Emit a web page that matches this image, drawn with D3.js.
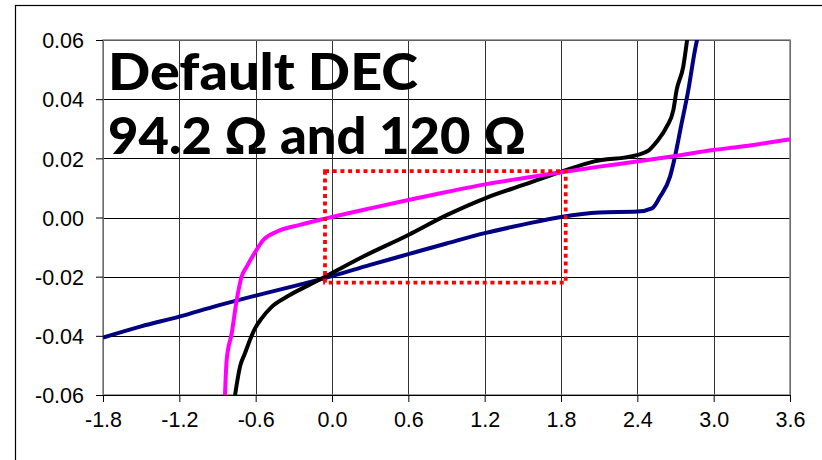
<!DOCTYPE html>
<html><head><meta charset="utf-8">
<script src="https://cdn.jsdelivr.net/npm/d3@7/dist/d3.min.js"></script>
<style>
html,body{margin:0;padding:0;background:#fff;}
svg{display:block;}
</style></head>
<body>
<svg id="chart" width="822" height="460"></svg>
<script>
// ---- data ----
const xTicks = [-1.8, -1.2, -0.6, 0.0, 0.6, 1.2, 1.8, 2.4, 3.0, 3.6];
const xTickLabels = ["-1.8","-1.2","-0.6","0.0","0.6","1.2","1.8","2.4","3.0","3.6"];
const yTicks = [-0.06, -0.04, -0.02, 0.00, 0.02, 0.04, 0.06];
const yTickLabels = ["-0.06","-0.04","-0.02","0.00","0.02","0.04","0.06"];

const titleLines = ["Default DEC", "94.2 \u03A9 and 120 \u03A9"];

// navy (dark blue) curve
const navyX = [-1.8, -1.5, -1.2, -0.9, -0.6, -0.3, 0.0, 0.3, 0.6, 0.9, 1.2, 1.5, 1.8, 2.1, 2.4, 2.515, 2.578, 2.657, 2.696, 2.748, 2.801, 2.853, 2.872];
const navyY = [-0.0406, -0.0368, -0.0335, -0.0298, -0.0264, -0.0232, -0.0198, -0.0160, -0.0124, -0.0088, -0.0053, -0.0024, 0.0002, 0.0017, 0.0020, 0.0031, 0.0070, 0.0138, 0.0206, 0.0318, 0.0431, 0.0566, 0.0606];

// black curve
const blackX = [-0.762, -0.723, -0.684, -0.645, -0.605, -0.553, -0.474, -0.356, -0.199, -0.055, 0.246, 0.6, 0.901, 1.203, 1.504, 1.805, 2.054, 2.395, 2.487, 2.552, 2.631, 2.683, 2.709, 2.761, 2.793];
const blackY = [-0.0600, -0.0504, -0.0459, -0.0414, -0.0375, -0.0341, -0.0302, -0.0268, -0.0232, -0.0200, -0.0132, -0.0059, 0.0008, 0.0065, 0.0110, 0.0155, 0.0189, 0.0211, 0.0226, 0.0256, 0.0307, 0.0363, 0.0431, 0.0510, 0.0606];

// magenta curve
const magentaX = [-0.841, -0.828, -0.788, -0.749, -0.710, -0.670, -0.618, -0.540, -0.435, -0.252, -0.047, 0.3, 0.6, 0.9, 1.203, 1.5, 1.805, 2.1, 2.395, 2.7, 2.997, 3.207, 3.4, 3.6];
const magentaY = [-0.0600, -0.0482, -0.0391, -0.0279, -0.0200, -0.0166, -0.0127, -0.0076, -0.0048, -0.0025, -0.0003, 0.0031, 0.0059, 0.0086, 0.0112, 0.0133, 0.0153, 0.0172, 0.0189, 0.0208, 0.0228, 0.0239, 0.0251, 0.0264];

// dotted highlight box (data coordinates)
const boxX = [-0.055, 1.837];
const boxY = [-0.022, 0.0157];

// ---- drawing ----
const svg = d3.select("#chart");
const x = d3.scaleLinear().domain([-1.8, 3.6]).range([103, 790]);
const y = d3.scaleLinear().domain([-0.06, 0.06]).range([395, 40]);

// outer chart border
svg.append("rect").attr("x", 15.5).attr("y", 5.5).attr("width", 830).attr("height", 470)
  .attr("fill", "#fff").attr("stroke", "#000").attr("stroke-width", 1.2);

// gridlines
const grid = svg.append("g");
grid.selectAll("line.h").data(yTicks).join("line")
  .attr("x1", x(-1.8)).attr("x2", x(3.6))
  .attr("y1", d => Math.round(y(d)) + 0.5).attr("y2", d => Math.round(y(d)) + 0.5)
  .attr("stroke", "#000").attr("stroke-width", 1);
grid.selectAll("line.v").data(xTicks).join("line")
  .attr("y1", y(0.06)).attr("y2", y(-0.06))
  .attr("x1", d => Math.round(x(d)) + 0.5).attr("x2", d => Math.round(x(d)) + 0.5)
  .attr("stroke", "#333").attr("stroke-width", 1);

// plot area frame (gray)
svg.append("rect").attr("x", x(-1.8)).attr("y", y(0.06))
  .attr("width", x(3.6) - x(-1.8)).attr("height", y(-0.06) - y(0.06))
  .attr("fill", "none").attr("stroke", "#808080").attr("stroke-width", 1.5);

// axes
const fontAx = "'Liberation Sans', Arial, sans-serif";
const yAxis = d3.axisLeft(y).tickValues(yTicks).tickSize(7).tickPadding(12)
  .tickFormat((d, i) => yTickLabels[i]);
const gy = svg.append("g").attr("transform", `translate(${x(-1.8)},0)`).call(yAxis);
const xAxis = d3.axisBottom(x).tickValues(xTicks).tickSize(7).tickPadding(10)
  .tickFormat((d, i) => xTickLabels[i]);
const gx = svg.append("g").attr("transform", `translate(0,${y(-0.06)})`).call(xAxis);
[gx, gy].forEach(g => {
  g.select(".domain").remove();
  g.selectAll(".tick line").attr("stroke", "#000").attr("stroke-width", 1);
  g.selectAll(".tick text").attr("font-family", fontAx).attr("font-size", 21.5).attr("fill", "#000");
});
gy.selectAll(".tick text").attr("dy", "0.36em");
gx.selectAll(".tick text").attr("dy", "0.7em");
// x axis line along the bottom
svg.append("line").attr("x1", x(-1.8)).attr("x2", x(3.6))
  .attr("y1", y(-0.06) + 0.5).attr("y2", y(-0.06) + 0.5).attr("stroke", "#000");

// clip
svg.append("defs").append("clipPath").attr("id", "plotclip").append("rect")
  .attr("x", x(-1.8)).attr("y", y(0.06))
  .attr("width", x(3.6) - x(-1.8)).attr("height", y(-0.06) - y(0.06));

const line = d3.line().x(d => x(d[0])).y(d => y(d[1])).curve(d3.curveMonotoneX);
const series = [
  {xs: navyX, ys: navyY, color: "#000080"},
  {xs: blackX, ys: blackY, color: "#000000"},
  {xs: magentaX, ys: magentaY, color: "#FF00FF"}
];
const curves = svg.append("g").attr("clip-path", "url(#plotclip)");
series.forEach(s => {
  curves.append("path").datum(s.xs.map((v, i) => [v, s.ys[i]]))
    .attr("d", line).attr("fill", "none").attr("stroke", s.color)
    .attr("stroke-width", 4).attr("stroke-linejoin", "round").attr("stroke-linecap", "butt");
});

// dotted red box
svg.append("rect")
  .attr("x", x(boxX[0])).attr("y", y(boxY[1]))
  .attr("width", x(boxX[1]) - x(boxX[0])).attr("height", y(boxY[0]) - y(boxY[1]))
  .attr("fill", "none").attr("stroke", "#FF0000").attr("stroke-width", 3.8)
  .attr("stroke-dasharray", "4,3.7");

// title
const title = svg.append("g").attr("font-family", "Lato, 'Open Sans', sans-serif")
  .attr("font-weight", 900).attr("font-size", 51).attr("fill", "#000");
title.append("text").attr("x", 108).attr("y", 89.5).attr("textLength", 310)
  .attr("lengthAdjust", "spacingAndGlyphs").text(titleLines[0]);
title.append("text").attr("x", 108).attr("y", 153.5).attr("textLength", 418)
  .attr("lengthAdjust", "spacingAndGlyphs").text(titleLines[1]);
</script>
</body></html>
